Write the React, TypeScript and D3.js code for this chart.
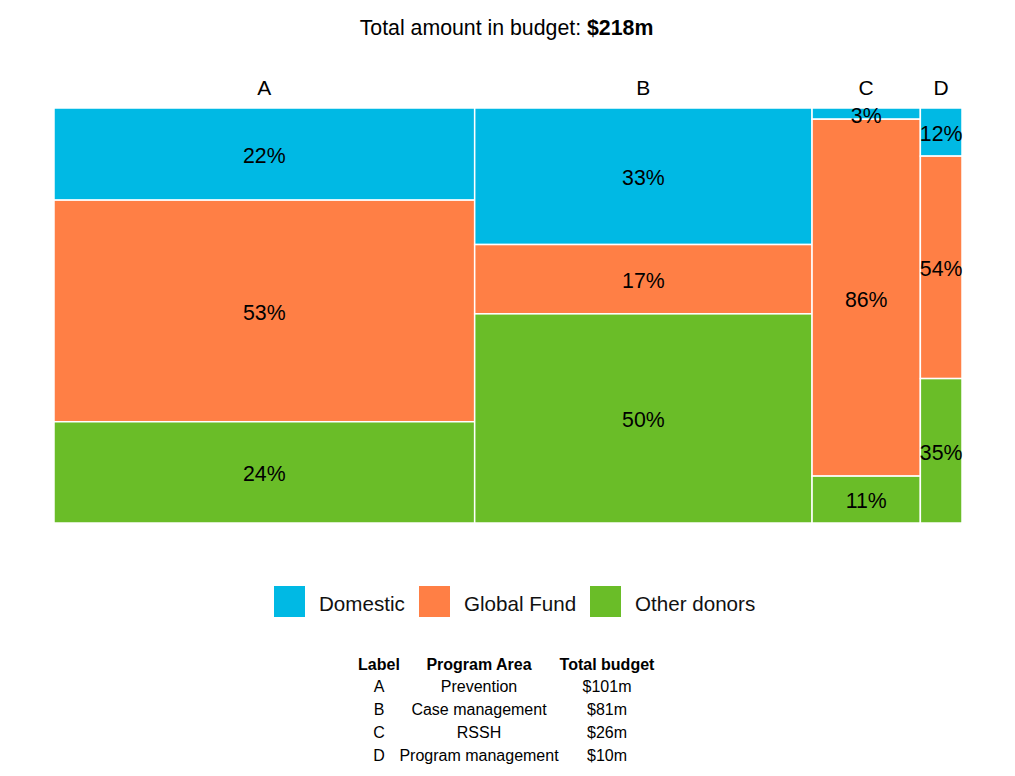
import { useEffect, useRef } from "react";
import * as d3 from "d3";

// Program areas
const labels = ["A", "B", "C", "D"];
const programAreas = ["Prevention", "Case management", "RSSH", "Program management"];
const budgets = [101, 81, 26, 10]; // $m

// Funding source shares (%) per program area
const sources = ["Domestic", "Global Fund", "Other donors"];
const domestic = [22.2, 32.9, 2.7, 11.6];
const globalFund = [53.4, 16.7, 86.0, 53.6];
const otherDonors = [24.4, 50.4, 11.3, 34.8];

const colors = ["#00b9e4", "#ff7f45", "#6abd28"];

const App = () => {
  const svgRef = useRef<SVGSVGElement>(null);

  useEffect(() => {
    const width = 1015;
    const height = 776;
    const margin = { top: 108, left: 54, right: 53 };
    const plotHeight = 414;
    const plotWidth = width - margin.left - margin.right;
    const font = "'Liberation Sans', Arial, sans-serif";

    const svg = d3.select(svgRef.current);
    svg.selectAll("*").remove();
    svg.attr("width", width).attr("height", height).style("font-family", font);

    const total = d3.sum(budgets);

    // Title
    const title = svg
      .append("text")
      .attr("x", width / 2 - 1)
      .attr("y", 35)
      .attr("text-anchor", "middle")
      .attr("font-size", 21.3)
      .attr("fill", "#000");
    title.append("tspan").text("Total amount in budget: ");
    title.append("tspan").attr("font-weight", "bold").text(`$${total}m`);

    // Column positions
    const cumulative = [0, ...d3.cumsum(budgets)];
    const x = d3.scaleLinear().domain([0, total]).range([0, plotWidth]);
    const y = d3.scaleLinear().domain([0, 100]).range([0, plotHeight + 1]);

    const g = svg.append("g").attr("transform", `translate(${margin.left},${margin.top})`);
    const rectLayer = g.append("g");
    const labelLayer = g.append("g");

    const shares = [domestic, globalFund, otherDonors];

    labels.forEach((lab, i) => {
      const x0 = x(cumulative[i]);
      const x1 = x(cumulative[i + 1]);
      const cx = (x0 + x1) / 2;

      labelLayer
        .append("text")
        .attr("x", cx)
        .attr("y", -20)
        .attr("dy", "0.35em")
        .attr("text-anchor", "middle")
        .attr("font-size", 21)
        .text(lab);

      let acc = 0;
      shares.forEach((series, s) => {
        const v = series[i];
        const y0 = y(acc);
        const y1 = y(acc + v);
        acc += v;
        rectLayer
          .append("rect")
          .attr("x", x0)
          .attr("y", y0)
          .attr("width", x1 - x0)
          .attr("height", y1 - y0)
          .attr("fill", colors[s])
          .attr("stroke", "white")
          .attr("stroke-width", 1.5);
        labelLayer
          .append("text")
          .attr("x", cx)
          .attr("y", (y0 + y1) / 2)
          .attr("dy", "0.42em")
          .attr("text-anchor", "middle")
          .attr("font-size", 21.3)
          .attr("fill", "#000")
          .text(`${Math.round(v)}%`);
      });
    });

    // Legend
    const legendX = [274, 419, 590];
    const legend = svg.append("g").attr("transform", "translate(0,586)");
    sources.forEach((name, i) => {
      legend
        .append("rect")
        .attr("x", legendX[i])
        .attr("y", 0)
        .attr("width", 31)
        .attr("height", 31)
        .attr("fill", colors[i]);
      legend
        .append("text")
        .attr("x", legendX[i] + 45)
        .attr("y", 16)
        .attr("dy", "0.42em")
        .attr("font-size", 20.6)
        .attr("fill", "#111")
        .text(name);
    });

    // Table
    const colX = [379, 479, 607];
    const headers = ["Label", "Program Area", "Total budget"];
    const table = svg.append("g");
    headers.forEach((h, j) => {
      table
        .append("text")
        .attr("x", colX[j])
        .attr("y", 664)
        .attr("dy", "0.36em")
        .attr("text-anchor", "middle")
        .attr("font-size", 16)
        .attr("font-weight", "bold")
        .text(h);
    });
    labels.forEach((lab, i) => {
      const row = [lab, programAreas[i], `$${budgets[i]}m`];
      row.forEach((cell, j) => {
        table
          .append("text")
          .attr("x", colX[j])
          .attr("y", 686 + i * 23)
          .attr("dy", "0.36em")
          .attr("text-anchor", "middle")
          .attr("font-size", 16)
          .text(cell);
      });
    });
  }, []);

  return <svg ref={svgRef} style={{ display: "block", margin: "-8px" }}></svg>;
};

export default App;
